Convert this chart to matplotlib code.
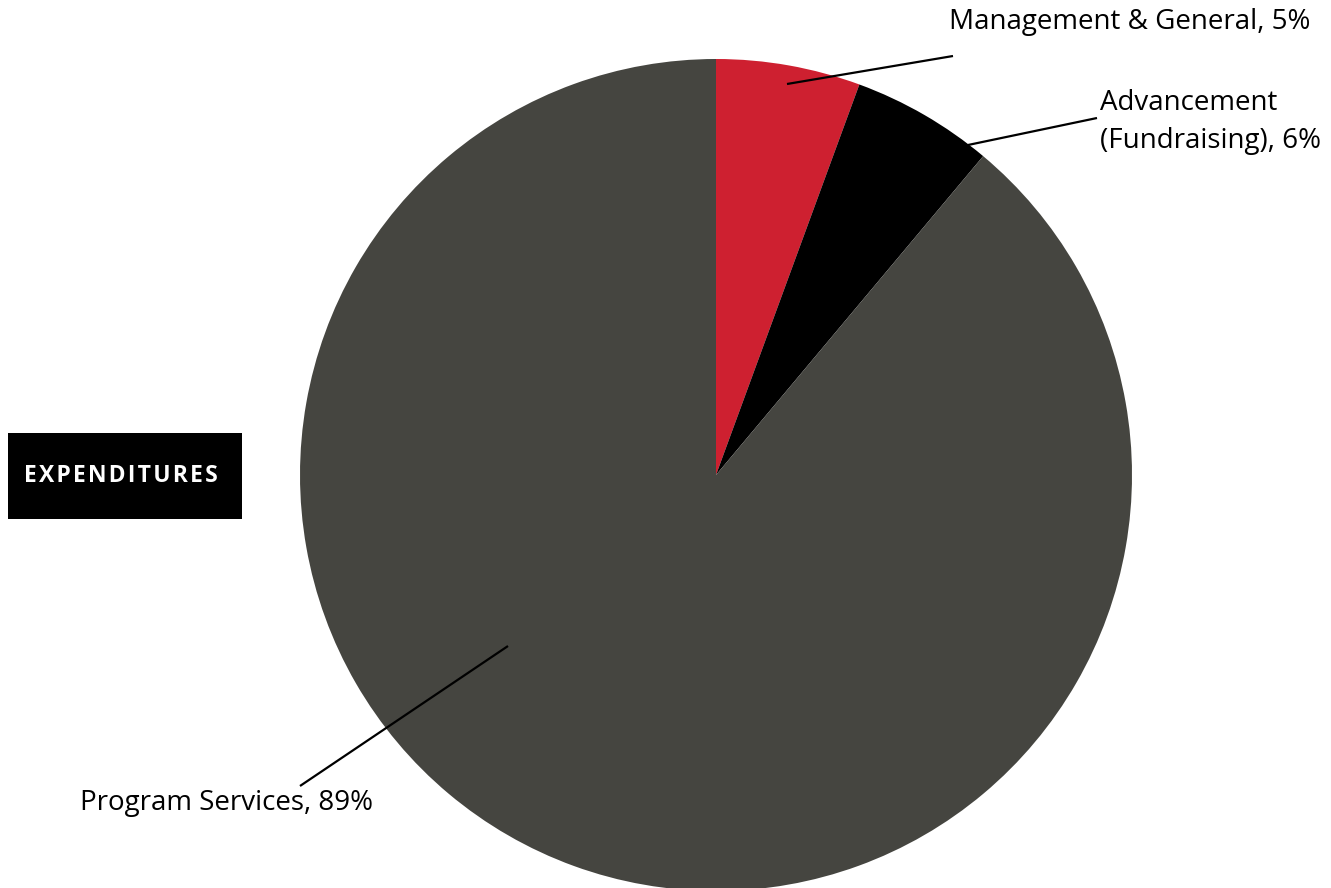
import matplotlib.pyplot as plt
from matplotlib.patches import Rectangle

plt.rcParams['font.family'] = ['Open Sans', 'DejaVu Sans']

# datos del grafico (porcentajes)
categorias = ["Management & General", "Advancement\n(Fundraising)", "Program Services"]
valores = [5.6, 5.5, 88.9]
etiquetas_pct = ["5%", "6%", "89%"]
colores = ["#CE2030", "#000000", "#454540"]

W, H = 1331, 888
fig = plt.figure(figsize=(W / 100, H / 100), dpi=100)
ax = fig.add_axes([0, 0, 1, 1])
ax.set_xlim(0, W)
ax.set_ylim(0, H)
ax.set_aspect("equal")
ax.axis("off")

# centro y radio en pixeles (y desde abajo)
cx, cy, R = 716, H - 475, 416
ax.pie(valores, colors=colores, startangle=90, counterclock=False,
       center=(cx, cy), radius=R, wedgeprops=dict(linewidth=0))
ax.set_xlim(0, W)
ax.set_ylim(0, H)

# posiciones de las etiquetas: (punto en la rebanada, fin de la linea, texto)
pos = [
    ((787, 84), (953, 56), (949, 22)),
    ((968, 145), (1097, 118), (1100, 122)),
    ((508, 646), (300, 786), (80, 803)),
]
for cat, pct, (p0, p1, pt) in zip(categorias, etiquetas_pct, pos):
    ax.plot([p0[0], p1[0]], [H - p0[1], H - p1[1]], color="black", lw=1.6,
            solid_capstyle="butt")
    ax.text(pt[0], H - pt[1], f"{cat}, {pct}", fontsize=20, ha="left", va="center",
            color="black", linespacing=1.5)

# caja del titulo
ax.add_patch(Rectangle((8, H - 519), 234, 86, color="black", lw=0))
ax.text(121, H - 476, "\u200a".join("EXPENDITURES"),
        fontsize=16.5, fontweight="bold", color="white", ha="center", va="center")

fig.savefig("out.png", dpi=100)
